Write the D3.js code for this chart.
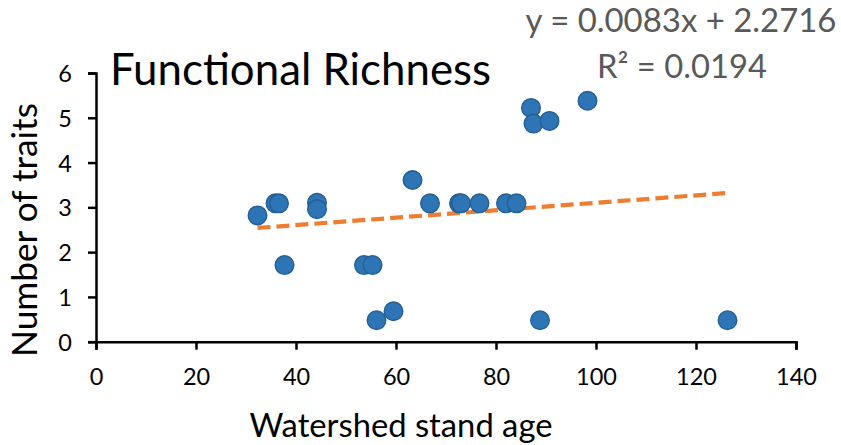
<!DOCTYPE html>
<html><head><meta charset="utf-8">
<script src="https://cdn.jsdelivr.net/npm/d3@7"></script>
<style>
html,body{margin:0;padding:0;background:#fff;}
svg{display:block;font-family:Lato, "Open Sans", sans-serif;}
</style></head>
<body>
<svg id="c" width="841" height="445"></svg>
<script>
const standAge = [32.3, 35.9, 36.6, 37.7, 44.2, 44.2, 53.6, 55.3, 56.1, 59.5, 63.3, 66.8, 72.6, 73.0, 76.7, 82.0, 84.1, 87.0, 87.5, 88.8, 90.7, 98.3, 126.3];
const traits   = [2.82, 3.09, 3.09, 1.71, 3.10, 2.96, 1.71, 1.71, 0.48, 0.68, 3.61, 3.09, 3.09, 3.09, 3.09, 3.09, 3.09, 5.22, 4.87, 0.48, 4.93, 5.38, 0.48];
const xTicks = [0, 20, 40, 60, 80, 100, 120, 140];
const yTicks = [0, 1, 2, 3, 4, 5, 6];
const slope = 0.0083, intercept = 2.2716;
const trendRange = [32.3, 126.6];
const title = "Functional Richness";
const xTitle = "Watershed stand age";
const yTitle = "Number of traits";
const eqText = "y = 0.0083x + 2.2716";
const r2Text = "R² = 0.0194";

const svg = d3.select("#c");
const x = d3.scaleLinear().domain([0, 140]).range([96, 796]);
const y = d3.scaleLinear().domain([0, 6]).range([341.7, 73]);

function fit(sel, target) {
  const w = sel.node().getComputedTextLength();
  const fs = parseFloat(sel.attr("font-size"));
  sel.attr("font-size", fs * target / w);
}

// axes
const xa = svg.append("g").attr("transform", `translate(0,${y(0)})`)
  .call(d3.axisBottom(x).tickValues(xTicks).tickSize(8).tickPadding(19).tickFormat(d3.format("d")));
const ya = svg.append("g").attr("transform", `translate(${x(0)},0)`)
  .call(d3.axisLeft(y).tickValues(yTicks).tickSize(8).tickPadding(16).tickFormat(d3.format("d")));
[xa, ya].forEach(a => {
  a.select(".domain").attr("stroke", "#000").attr("stroke-width", 2.5);
  a.selectAll(".tick line").attr("stroke", "#000").attr("stroke-width", 2.5);
  a.selectAll(".tick text").attr("fill", "#000").attr("font-size", 23.5).attr("font-family", "Lato, 'Open Sans', sans-serif");
});
ya.selectAll(".tick text").attr("dy", "0.36em");

// trend line
const line = d3.line().x(d => x(d)).y(d => y(slope * d + intercept));
svg.append("path").datum(trendRange).attr("d", line)
  .attr("fill", "none").attr("stroke", "#ED7D31").attr("stroke-width", 4.2)
  .attr("stroke-dasharray", "13,6");

// points
svg.append("g").selectAll("circle").data(standAge.map((a, i) => [a, traits[i]]))
  .join("circle")
  .attr("cx", d => x(d[0])).attr("cy", d => y(d[1])).attr("r", 9.3)
  .attr("fill", "#2E75B6").attr("stroke", "#245E93").attr("stroke-width", 1.4);

// texts
const t = svg.append("text").attr("x", 110).attr("y", 85).attr("font-size", 40).attr("fill", "#000").text(title);
fit(t, 381);
const xt = svg.append("text").attr("x", 401).attr("y", 437).attr("text-anchor", "middle").attr("font-size", 30).attr("fill", "#000").text(xTitle);
fit(xt, 303);
const yt = svg.append("text").attr("transform", "translate(37,230) rotate(-90)").attr("text-anchor", "middle").attr("font-size", 30).attr("fill", "#000").text(yTitle);
fit(yt, 254);
const e1 = svg.append("text").attr("x", 681).attr("y", 32).attr("text-anchor", "middle").attr("font-size", 30).attr("fill", "#595959").text(eqText);
fit(e1, 311);
const e2 = svg.append("text").attr("x", 682).attr("y", 78).attr("text-anchor", "middle").attr("font-size", 30).attr("fill", "#595959").text(r2Text);
fit(e2, 170);
</script>
</body></html>
